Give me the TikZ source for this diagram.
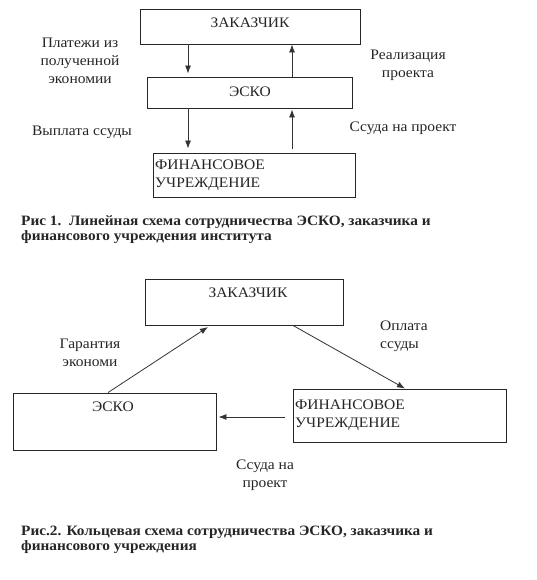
\documentclass[tikz,border=0pt]{standalone}
\usepackage{fontspec}
\setmainfont{Liberation Serif}[FakeStretch=1.07]
\usetikzlibrary{arrows.meta}
\begin{document}
\begin{tikzpicture}[x=1pt,y=-1pt,
  box/.style={draw=black!85, line width=0.9pt, rectangle, inner sep=0pt},
  arr/.style={draw=black!80, line width=0.8pt, -{Latex[length=8pt,width=6pt]}},
  lbl/.style={font=\fontsize{14.5}{18}\selectfont, align=center, inner sep=0pt, text=black!85},
  boxtxt/.style={font=\fontsize{14.5}{18}\selectfont, inner sep=0pt, text=black!85},
  captxt/.style={font=\fontsize{14.3}{14.5}\selectfont\bfseries, align=left, inner sep=0pt, anchor=base west, text=black!85}
]
\useasboundingbox[fill=white] (0,0) rectangle (536,580);

% ---------- Figure 1 ----------
\node[box, minimum width=220pt, minimum height=35pt] (z1) at (250,26.5) {};
\node[box, minimum width=205pt, minimum height=31pt] (e1) at (249.5,92.5) {};
\node[box, minimum width=202pt, minimum height=44pt] (f1) at (254,175) {};

\node[boxtxt] (z1t) at (250,23) {ЗАКАЗЧИК};
\node[boxtxt] (e1t) at (250,92) {ЭСКО};
\node[boxtxt, align=left, anchor=west] (f1t) at (155,175) {ФИНАНСОВОЕ\\УЧРЕЖДЕНИЕ};

\coordinate (xl) at (188,0);
\coordinate (xr) at (292,0);
\draw[arr, shorten >=3pt] (z1.south -| xl) -- (e1.north -| xl);
\draw[arr] (e1.north -| xr) -- (z1.south -| xr);
\draw[arr, shorten >=4pt] (e1.south -| xl) -- (f1.north -| xl);
\draw[arr, shorten <=4pt, shorten >=1pt] (f1.north -| xr) -- (e1.south -| xr);

\node[lbl] (l1) at (80,61) {Платежи из\\полученной\\экономии};
\node[lbl] (l2) at (408,65) {Реализация\\проекта};
\node[lbl] (l3) at (82,132) {Выплата ссуды};
\node[lbl] (l4) at (403,128) {Ссуда на проект};

\node[captxt] (cap1) at (21,240) {Рис 1.\ \ Линейная схема сотрудничества ЭСКО, заказчика и\\финансового учреждения института};

% ---------- Figure 2 ----------
\node[box, minimum width=198pt, minimum height=46pt] (z2) at (244,302) {};
\node[box, minimum width=203pt, minimum height=57pt] (e2) at (114.5,421.5) {};
\node[box, minimum width=213pt, minimum height=53pt] (f2) at (399.5,415.5) {};

\node[boxtxt] (z2t) at (248,293) {ЗАКАЗЧИК};
\node[boxtxt] (e2t) at (113,407) {ЭСКО};
\node[boxtxt, align=left, anchor=west] (f2t) at (295,415) {ФИНАНСОВОЕ\\УЧРЕЖДЕНИЕ};

\coordinate (a1) at (108,0);
\coordinate (a2) at (208,327);
\coordinate (b1) at (293,0);
\coordinate (b2) at (405,0);
\coordinate (c1) at (0,417);
\draw[arr] (e2.north -| a1) -- (a2);
\draw[arr] (z2.south -| b1) -- (f2.north -| b2);
\draw[arr, shorten <=8pt, shorten >=2pt] (f2.west |- c1) -- (e2.east |- c1);

\node[lbl] (g1) at (90,353) {Гарантия\\экономи};
\node[lbl, align=left, anchor=west] (g2) at (380,336) {Оплата\\ссуды};
\node[lbl] (g3) at (265,475) {Ссуда на\\проект};

\node[captxt] (cap2) at (21,550) {Рис.2. Кольцевая схема сотрудничества ЭСКО, заказчика и\\финансового учреждения};
\end{tikzpicture}
\end{document}
